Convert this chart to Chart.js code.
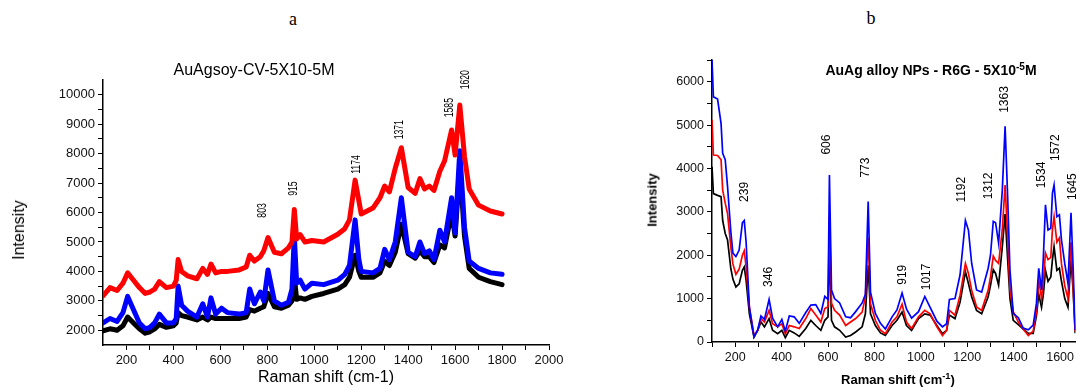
<!DOCTYPE html>
<html>
<head>
<meta charset="utf-8">
<script src="https://cdn.jsdelivr.net/npm/chart.js@4.4.1/dist/chart.umd.min.js"></script>
<style>
body { margin: 0; background: #fff; width: 1077px; height: 387px; overflow: hidden; position: relative; font-family: "Liberation Sans", Arial, sans-serif; }
.plot { position: absolute; top: 0; }
.txt { position: absolute; white-space: nowrap; transform: translate(-50%, -50%); color: #000; }
.rot { transform: translate(-50%, -50%) rotate(-90deg); }
.panel { font-family: "Liberation Serif", "Times New Roman", serif; font-size: 18px; }
sup { font-size: 0.72em; vertical-align: 0.45em; line-height: 0; }
</style>
</head>
<body>
<div class="txt panel" style="left:293px; top:19px;">a</div>
<div class="txt panel" style="left:871px; top:18px;">b</div>

<div class="plot" style="left:0; width:600px; height:387px;"><canvas id="chartA" width="600" height="387"></canvas></div>
<div class="plot" style="left:600px; width:477px; height:387px;"><canvas id="chartB" width="477" height="387"></canvas></div>

<div class="txt" style="left:254px; top:70px; font-size:16px;">AuAgsoy-CV-5X10-5M</div>
<div class="txt" style="left:326px; top:377px; font-size:16px;">Raman shift (cm-1)</div>
<div class="txt rot" style="left:19px; top:230px; font-size:16px;">Intensity</div>

<div class="txt" style="left:931px; top:70px; font-size:14px; font-weight:bold;">AuAg alloy NPs - R6G - 5X10<sup>-5</sup>M</div>
<div class="txt" style="left:898px; top:379px; font-size:13px; font-weight:bold;">Raman shift (cm<sup>-1</sup>)</div>
<div class="txt rot" style="left:652px; top:200px; font-size:13px; font-weight:bold;">Intensity</div>

<script>
// ---- panel a : AuAgsoy-CV ----
const aShift = [100, 130, 160, 185, 205, 230, 255, 280, 300, 320, 340, 370, 400, 412, 420, 435, 460, 500, 525, 545,
    560, 580, 605, 630, 680, 710, 725, 745, 770, 785, 803, 830, 860, 890, 905, 915, 925, 940, 960, 990,
    1040, 1100, 1130, 1150, 1174, 1190, 1200, 1250, 1280, 1300, 1320, 1345, 1371, 1400, 1430, 1450, 1470, 1490, 1510, 1535,
    1555, 1585, 1600, 1620, 1640, 1660, 1700, 1750, 1800];
const aRed = [3170, 3450, 3350, 3600, 3950, 3700, 3450, 3250, 3300, 3400, 3650, 3450, 3500, 3700, 4400, 4000, 3850, 3750, 4100, 3900,
    4250, 3950, 4000, 4000, 4050, 4150, 4550, 4350, 4500, 4700, 5150, 4650, 4600, 4800, 5000, 6100, 5100, 5250, 5000, 5050,
    5000, 5260, 5450, 5750, 7100, 6400, 5950, 6150, 6500, 6900, 6700, 7500, 8200, 6850, 6650, 7150, 6800, 6900, 6750, 7400,
    7750, 8800, 7950, 9650, 7900, 6800, 6250, 6050, 5950];
const aBlue = [2250, 2400, 2300, 2600, 3150, 2700, 2250, 2050, 2100, 2250, 2550, 2250, 2250, 2400, 3500, 2850, 2650, 2450, 2900, 2450,
    3100, 2550, 2750, 2600, 2550, 2600, 3400, 2900, 3300, 3000, 4050, 3000, 2850, 2950, 3400, 5200, 3600, 3700, 3400, 3600,
    3550, 3700, 3900, 4200, 5750, 4400, 4000, 3950, 4100, 4750, 4400, 5000, 6500, 4650, 4500, 5000, 4600, 4700, 4400, 5400,
    5000, 6500, 5300, 8100, 5500, 4350, 4100, 3950, 3900];
const aBlack = [1980, 2050, 2000, 2150, 2450, 2250, 2050, 1900, 1950, 2050, 2200, 2100, 2150, 2250, 2600, 2500, 2450, 2350, 2450, 2350,
    2450, 2400, 2400, 2400, 2400, 2450, 2700, 2650, 2750, 2800, 3250, 2800, 2750, 2850, 3000, 3800, 3050, 3100, 3050, 3150,
    3250, 3400, 3550, 3800, 4550, 4000, 3800, 3800, 3950, 4350, 4200, 4650, 5600, 4600, 4450, 4700, 4500, 4500, 4300, 4900,
    4800, 6000, 5200, 7600, 5200, 4100, 3800, 3650, 3550];
const aPeakText = ['803', '915', '1174', '1371', '1585', '1620'];
const aPeakX = [782, 912, 1179, 1364, 1577, 1644];
const aPeakY = [6070, 6810, 7630, 8810, 9560, 10510];
const aXTicks = [200, 300, 400, 500, 600, 700, 800, 900, 1000, 1100, 1200, 1300, 1400, 1500, 1600, 1700, 1800, 1900, 2000];
const aXLabels = [200, 400, 600, 800, 1000, 1200, 1400, 1600, 1800, 2000];
const aYTicks = [2000, 2500, 3000, 3500, 4000, 4500, 5000, 5500, 6000, 6500, 7000, 7500, 8000, 8500, 9000, 9500, 10000];
const aYLabels = [2000, 3000, 4000, 5000, 6000, 7000, 8000, 9000, 10000];

// ---- panel b : AuAg alloy NPs - R6G ----
const bShift = [100, 106, 124, 139, 146, 157, 167, 181, 190, 203, 217, 231, 239, 247, 261, 281, 297, 311, 326, 346,
    361, 383, 401, 416, 433, 454, 476, 504, 526, 547, 569, 586, 600, 606, 615, 628, 650, 676, 697, 719,
    747, 761, 773, 783, 804, 826, 847, 876, 897, 919, 938, 960, 990, 1017, 1040, 1069, 1093, 1111, 1123, 1147,
    1169, 1192, 1205, 1219, 1240, 1262, 1290, 1300, 1312, 1322, 1335, 1351, 1363, 1373, 1384, 1398, 1420, 1441, 1463, 1484,
    1498, 1508, 1520, 1528, 1537, 1548, 1560, 1567, 1574, 1586, 1597, 1606, 1620, 1634, 1647, 1656, 1665];
const bBlue = [6500, 5650, 5600, 5040, 4350, 4200, 3580, 2550, 2050, 1970, 2120, 2750, 2800, 2300, 800, 120, 280, 600, 520, 980,
    550, 350, 520, 250, 600, 580, 430, 680, 850, 860, 660, 1050, 980, 3850, 1200, 1000, 900, 580, 560, 700,
    900, 1100, 3240, 1150, 660, 430, 300, 580, 740, 1130, 760, 550, 700, 1050, 800, 480, 350, 420, 980, 1000,
    1550, 2800, 2580, 1810, 1200, 1150, 1700, 2000, 2780, 2750, 2280, 3500, 4970, 3500, 1660, 660, 560, 320, 280, 390,
    890, 1700, 1200, 1970, 3160, 2580, 2620, 3430, 3620, 2890, 2930, 2350, 1810, 1350, 2980, 1740, 280];
const bRed = [5120, 4310, 4300, 4200, 3500, 3200, 2960, 2200, 1800, 1560, 1680, 2000, 2100, 1730, 810, 150, 270, 540, 460, 730,
    420, 350, 420, 190, 380, 350, 310, 540, 770, 620, 460, 770, 810, 2900, 900, 730, 620, 380, 460, 540,
    690, 1040, 2410, 880, 500, 270, 190, 460, 580, 870, 460, 310, 580, 730, 650, 350, 150, 270, 730, 620,
    1080, 1810, 1580, 1190, 810, 730, 1190, 1500, 1980, 1880, 1810, 2600, 3620, 2510, 1200, 700, 460, 300, 150, 250,
    700, 1430, 1000, 1400, 2050, 1900, 1950, 2600, 2890, 2300, 2400, 1800, 1300, 1000, 2300, 1300, 250];
const bBlack = [4040, 3420, 3380, 3350, 2800, 2500, 2350, 1700, 1450, 1270, 1340, 1650, 1730, 1420, 650, 115, 270, 460, 350, 540,
    270, 190, 270, 100, 270, 210, 130, 310, 500, 380, 270, 500, 580, 2200, 500, 350, 270, 115, 150, 230,
    350, 650, 1770, 650, 380, 210, 150, 380, 500, 690, 380, 270, 540, 650, 620, 380, 190, 270, 620, 540,
    920, 1620, 1350, 1040, 730, 650, 1040, 1300, 1670, 1580, 1310, 2200, 2950, 2000, 1000, 500, 400, 300, 200, 200,
    600, 1100, 800, 1100, 1650, 1400, 1500, 1900, 2200, 1650, 1700, 1400, 1000, 800, 1900, 1200, 200];
const bPeakText = ['239', '346', '606', '773', '919', '1017', '1192', '1312', '1363', '1534', '1572', '1645'];
const bPeakX = [243, 346, 594, 761, 920, 1027, 1177, 1293, 1361, 1520, 1580, 1653];
const bPeakY = [3460, 1500, 4550, 4020, 1550, 1500, 3510, 3600, 5590, 3850, 4480, 3580];
const bXTicks = [100, 200, 300, 400, 500, 600, 700, 800, 900, 1000, 1100, 1200, 1300, 1400, 1500, 1600];
const bXLabels = [200, 400, 600, 800, 1000, 1200, 1400, 1600];
const bYTicks = [0, 500, 1000, 1500, 2000, 2500, 3000, 3500, 4000, 4500, 5000, 5500, 6000, 6500];
const bYLabels = [0, 1000, 2000, 3000, 4000, 5000, 6000];

// rotated peak labels, placed through the chart scales
const peakLabels = {
    id: 'peakLabels',
    afterDatasetsDraw(chart, args, opts) {
        const ctx = chart.ctx;
        const x = chart.scales.x, y = chart.scales.y;
        ctx.save();
        ctx.fillStyle = '#000';
        ctx.font = opts.font;
        ctx.textAlign = 'center';
        ctx.textBaseline = 'middle';
        opts.texts.forEach((t, i) => {
            ctx.save();
            ctx.translate(x.getPixelForValue(opts.xs[i]), y.getPixelForValue(opts.ys[i]));
            ctx.rotate(-Math.PI / 2);
            ctx.scale(opts.squeeze, 1);
            ctx.fillText(t, 0, 0);
            ctx.restore();
        });
        ctx.restore();
    }
};

function pts(xs, ys) {
    return xs.map((x, i) => ({ x: x, y: ys[i] }));
}

function axis(min, max, tickList, labelList, fontSize, fixSize, horizontal) {
    return {
        type: 'linear',
        min: min,
        max: max,
        afterBuildTicks: s => { s.ticks = tickList.map(v => ({ value: v })); },
        afterFit: s => { if (horizontal) { s.height = fixSize; } else { s.width = fixSize; } },
        ticks: {
            autoSkip: false,
            maxRotation: 0,
            minRotation: 0,
            padding: 3,
            color: '#111',
            font: { family: '"Liberation Sans", Arial, sans-serif', size: fontSize },
            callback: v => labelList.includes(v) ? String(v) : ''
        },
        grid: { display: true, drawOnChartArea: false, drawTicks: true, tickLength: 5, color: '#000', lineWidth: 1 },
        border: { display: true, color: '#000', width: 1.5 }
    };
}

new Chart(document.getElementById('chartA'), {
    type: 'line',
    data: {
        datasets: [
            { data: pts(aShift, aRed), borderColor: '#ff0000', borderWidth: 5 },
            { data: pts(aShift, aBlue), borderColor: '#0000ff', borderWidth: 5 },
            { data: pts(aShift, aBlack), borderColor: '#000000', borderWidth: 5 }
        ]
    },
    options: {
        responsive: false,
        animation: false,
        devicePixelRatio: 1,
        layout: { padding: { left: 0, right: 51, top: 80, bottom: 12 } },
        elements: { line: { tension: 0, borderJoinStyle: 'round', borderCapStyle: 'round' }, point: { radius: 0 } },
        plugins: {
            legend: { display: false },
            tooltip: { enabled: false },
            peakLabels: { texts: aPeakText, xs: aPeakX, ys: aPeakY, font: '12px "Liberation Sans", Arial, sans-serif', squeeze: 0.72 }
        },
        scales: {
            x: axis(100, 2000, aXTicks, aXLabels, 13, 30, true),
            y: axis(1500, 10500, aYTicks, aYLabels, 13, 103, false)
        }
    },
    plugins: [peakLabels]
});

new Chart(document.getElementById('chartB'), {
    type: 'line',
    data: {
        datasets: [
            { data: pts(bShift, bBlue), borderColor: '#0000ff', borderWidth: 1.7 },
            { data: pts(bShift, bRed), borderColor: '#ff0000', borderWidth: 1.7 },
            { data: pts(bShift, bBlack), borderColor: '#000000', borderWidth: 1.7 }
        ]
    },
    options: {
        responsive: false,
        animation: false,
        devicePixelRatio: 1,
        layout: { padding: { left: 0, right: 0, top: 60, bottom: 15 } },
        elements: { line: { tension: 0 }, point: { radius: 0 } },
        plugins: {
            legend: { display: false },
            tooltip: { enabled: false },
            peakLabels: { texts: bPeakText, xs: bPeakX, ys: bPeakY, font: '12px "Liberation Sans", Arial, sans-serif', squeeze: 1 }
        },
        scales: {
            x: axis(100, 1666, bXTicks, bXLabels, 12.5, 30, true),
            y: axis(0, 6500, bYTicks, bYLabels, 12.5, 112, false)
        }
    },
    plugins: [peakLabels]
});
</script>
</body>
</html>
